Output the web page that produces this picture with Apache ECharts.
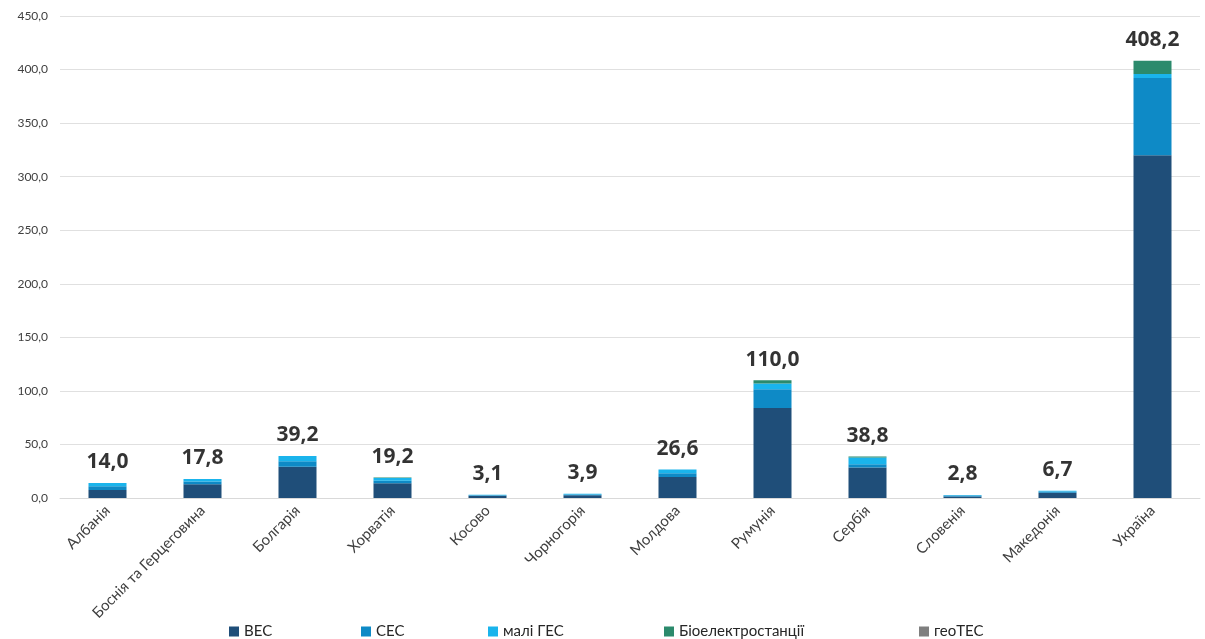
<!DOCTYPE html>
<html>
<head>
<meta charset="utf-8">
<script src="https://cdn.jsdelivr.net/npm/echarts@6/dist/echarts.min.js"></script>
<style>
  html, body { margin: 0; padding: 0; background: #fff; }
  #chart { width: 1205px; height: 639px; }
</style>
</head>
<body>
<div id="chart"></div>
<script>
const countries = ['Албанія', 'Боснія та Герцеговина', 'Болгарія', 'Хорватія', 'Косово', 'Чорногорія',
  'Молдова', 'Румунія', 'Сербія', 'Словенія', 'Македонія', 'Україна']

const wind = [7.5, 12.8, 29.2, 13.7, 2.0, 2.5, 19.5, 84.0, 28.5, 1.5, 5.0, 320.0]
const solar = [3.5, 2.5, 5.0, 2.5, 0.5, 0.7, 3.5, 17.5, 3.0, 0.8, 1.0, 72.2]
const smallHydro = [3.0, 2.5, 5.0, 2.5, 0.6, 0.7, 3.6, 5.5, 6.3, 0.5, 0.7, 3.6]
const bio = [0, 0, 0, 0.5, 0, 0, 0, 3.0, 1.0, 0, 0, 12.4]
const geo = [0, 0, 0, 0, 0, 0, 0, 0, 0, 0, 0, 0]
const totals = [14.0, 17.8, 39.2, 19.2, 3.1, 3.9, 26.6, 110.0, 38.8, 2.8, 6.7, 408.2]

const seriesNames = ['ВЕС', 'СЕС', 'малі ГЕС', 'Біоелектростанції', 'геоТЕС']
const seriesColors = ['#1f4e79', '#0e8ac6', '#1ab4ec', '#2b8a6c', '#7f7f7f']
const seriesValues = [wind, solar, smallHydro, bio, geo]
const legendLeft = [224, 356, 483, 659, 914]

const fmt = v => v.toFixed(1).replace('.', ',')
const font = 'Lato, "Open Sans", sans-serif'

const chart = echarts.init(document.getElementById('chart'))

const series = seriesNames.map((name, i) => ({
  name,
  type: 'bar',
  stack: 'total',
  barWidth: 38,
  itemStyle: { color: seriesColors[i] },
  data: seriesValues[i],
}))

series.push({
  name: 'total',
  type: 'scatter',
  data: totals,
  symbolSize: 0,
  silent: true,
  label: {
    show: true,
    position: 'top',
    distance: 10,
    formatter: p => fmt(p.value),
    fontFamily: '"Open Sans", sans-serif',
    fontWeight: 'bold',
    fontSize: 21,
    color: '#000',
  },
})

// one legend per item so the uneven spacing can be matched
const legends = seriesNames.map((name, i) => ({
  data: [name],
  left: legendLeft[i],
  top: 619,
  itemWidth: 10,
  itemHeight: 10,
  icon: 'rect',
  textStyle: { fontFamily: font, fontSize: 15, color: '#262626' },
}))

chart.setOption({
  animation: false,
  grid: { left: 60, right: 5, top: 16, bottom: 141 },
  legend: legends,
  xAxis: {
    type: 'category',
    data: countries,
    axisTick: { show: false },
    axisLine: { lineStyle: { color: '#d9d9d9' } },
    axisLabel: {
      rotate: 45,
      interval: 0,
      margin: 10,
      fontFamily: font,
      fontSize: 15,
      color: '#404040',
    },
  },
  yAxis: {
    type: 'value',
    min: 0,
    max: 450,
    interval: 50,
    axisLabel: {
      formatter: v => fmt(v),
      fontFamily: font,
      fontSize: 12,
      color: '#404040',
      margin: 12,
    },
    splitLine: { lineStyle: { color: '#e0e0e0' } },
  },
  series,
})
</script>
</body>
</html>
